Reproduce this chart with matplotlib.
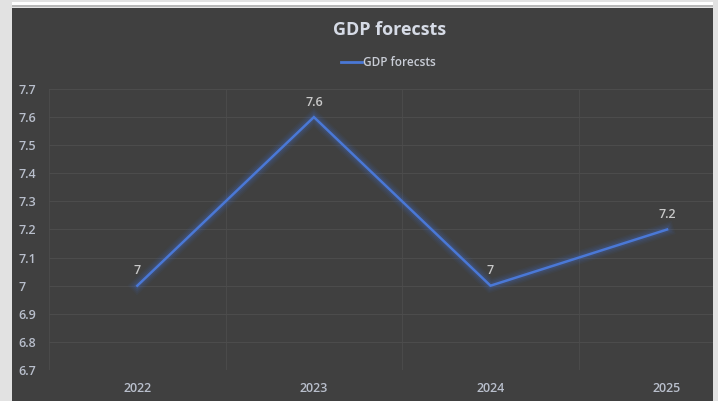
import matplotlib
matplotlib.use("Agg")
import matplotlib.pyplot as plt
from matplotlib.patches import Rectangle

years = ["2022", "2023", "2024", "2025"]
gdp = [7.0, 7.6, 7.0, 7.2]
yticks = [6.7, 6.8, 6.9, 7.0, 7.1, 7.2, 7.3, 7.4, 7.5, 7.6, 7.7]
ytick_labels = ["6.7", "6.8", "6.9", "7", "7.1", "7.2", "7.3", "7.4", "7.5", "7.6", "7.7"]
data_labels = ["7", "7.6", "7", "7.2"]
series_name = "GDP forecsts"
title = "GDP forecsts"

plt.rcParams['font.family'] = ['Open Sans', 'DejaVu Sans']

W, H = 718, 401
fig = plt.figure(figsize=(W / 100, H / 100), dpi=100, facecolor="#e2e2e2")

def fx(px):
    return px / W

def fy(py):
    return 1 - py / H

# white strip at top and dark chart area
fig.patches.append(Rectangle((fx(12), fy(6)), fx(701), 4 / H, transform=fig.transFigure,
                             facecolor="white", edgecolor="none", zorder=-5))
fig.patches.append(Rectangle((fx(12), fy(7)), fx(701), 1.5 / H, transform=fig.transFigure,
                             facecolor="#b8b8b8", edgecolor="none", zorder=-5))
fig.patches.append(Rectangle((fx(12), 0), fx(701), fy(8), transform=fig.transFigure,
                             facecolor="#404040", edgecolor="none", zorder=-5))

ax = fig.add_axes([fx(49), fy(370), fx(713 - 49), (370 - 89) / H])
ax.set_facecolor("none")
ax.set_zorder(2)
x = list(range(len(years)))

# glow
for lw, a in [(10, 0.05), (8, 0.07), (6, 0.09), (4, 0.14)]:
    ax.plot(x, gdp, color="#3f6fd0", lw=lw, alpha=a, solid_joinstyle="miter", zorder=3)
ax.plot(x, gdp, color="#4a78d6", lw=1.8, solid_joinstyle="miter", zorder=4)

for xi, yi, lab in zip(x, gdp, data_labels):
    ax.annotate(lab, (xi, yi), xytext=(0, 6), textcoords="offset points",
                ha="center", va="bottom", color="#c9c9c9", fontsize=9, fontweight="semibold")

ax.set_yticks(yticks)
ax.set_yticklabels(ytick_labels)
ax.set_xticks(x)
ax.set_xticklabels(years)
ax.set_xticks([-0.5, 0.5, 1.5, 2.5, 3.5], minor=True)
ax.set_xlim(-0.5, 3.26)
ax.set_ylim(6.7, 7.7)
ax.grid(True, axis="y", color="#4c4c4c", lw=0.8)
ax.grid(True, axis="x", which="minor", color="#4a4a4a", lw=0.8)
ax.tick_params(axis="both", which="both", length=0, colors="#b9bfcc", labelsize=9)
ax.tick_params(axis="x", pad=9)
ax.tick_params(axis="y", pad=22)
for lab in ax.get_yticklabels() + ax.get_xticklabels():
    lab.set_fontweight("semibold")
for lab in ax.get_yticklabels():
    lab.set_horizontalalignment("left")
for s in ax.spines.values():
    s.set_visible(False)

fig.text(fx(390), fy(30), title, ha="center", va="center", color="#d6dbe6",
         fontsize=13, fontweight="bold")
fig.lines.append(plt.Line2D([fx(341), fx(362)], [fy(62), fy(62)], transform=fig.transFigure,
                            color="#4a78d6", lw=2))
fig.text(fx(363), fy(62), series_name, ha="left", va="center", color="#c9cdd6",
         fontsize=8.5, fontweight="semibold")

fig.savefig("out.png", dpi=100, facecolor=fig.get_facecolor())
